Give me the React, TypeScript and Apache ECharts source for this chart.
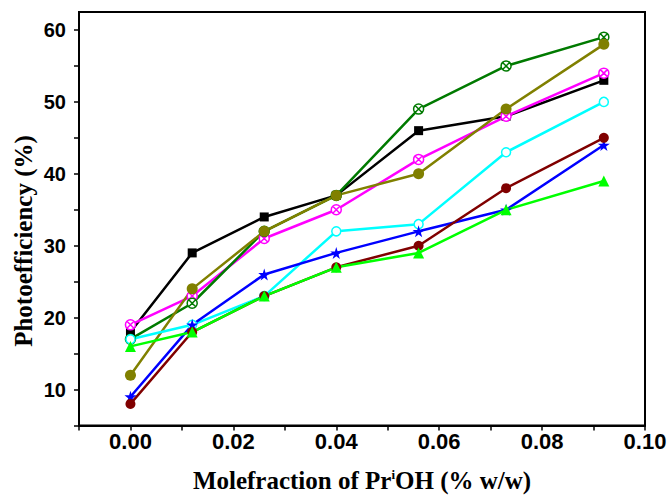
import React, { useEffect, useRef } from "react";
import * as echarts from "echarts";

const xValues = [0, 0.012, 0.026, 0.04, 0.056, 0.073, 0.092];
const blackSq = [18, 29, 34, 37, 46, 48, 53];
const magentaX = [19, 23, 31, 35, 42, 48, 54];
const greenX = [17, 22, 32, 37, 49, 55, 59];
const oliveDot = [12, 24, 32, 37, 40, 49, 58];
const cyanRing = [17, 19, 23, 32, 33, 43, 50];
const blueStar = [9, 19, 26, 29, 32, 35, 44];
const maroonDot = [8, 18, 23, 27, 30, 38, 45];
const limeTri = [16, 18, 23, 27, 29, 35, 39];

const yTitle = "Photoefficiency (%)";

const STAR = "path://M50,0L61,35L98,35L68,57L79,91L50,70L21,91L32,57L2,35L39,35Z";
const XCIRCLE = "path://M10,0A10,10,0,1,1,10,20A10,10,0,1,1,10,0ZM3,3L17,17M17,3L3,17";

function mk(name: string, vals: number[], color: string, symbol: string, size: number, hollow = false) {
  return {
    name,
    type: "line",
    data: xValues.map((x, i) => [x, vals[i]]),
    symbol,
    symbolSize: size,
    showSymbol: true,
    lineStyle: { color, width: 2.5 },
    itemStyle: hollow
      ? { color: "#ffffff", borderColor: color, borderWidth: 1.5 }
      : { color, borderColor: color, borderWidth: 0 },
    z: 3,
  };
}

export default function App() {
  const ref = useRef<HTMLDivElement>(null);
  useEffect(() => {
    if (!ref.current) return;
    const chart = echarts.init(ref.current, null, { renderer: "svg" });
    chart.setOption({
      animation: false,
      backgroundColor: "#ffffff",
      grid: {
        left: 79,
        right: 26,
        top: 12,
        bottom: 65,
        show: true,
        borderColor: "#000",
        borderWidth: 2,
        backgroundColor: "transparent",
      },
      graphic: [
        {
          type: "text",
          x: 23,
          y: 241,
          rotation: Math.PI / 2,
          style: {
            text: yTitle,
            fontFamily: "Liberation Serif",
            fontWeight: "bold",
            fontSize: 25,
            fill: "#000",
            align: "center",
            verticalAlign: "middle",
          },
        },
      ],
      xAxis: {
        type: "value",
        min: -0.01,
        max: 0.1,
        interval: 0.01,
        splitLine: { show: false },
        axisLine: { onZero: false, lineStyle: { color: "#000", width: 2 } },
        axisTick: { show: true, inside: false, length: 5, lineStyle: { color: "#000", width: 1.5 } },
        axisLabel: {
          fontFamily: "Liberation Sans",
          fontWeight: "bold",
          fontSize: 22,
          color: "#000",
          margin: 5,
          formatter: (v: number) => {
            const k = Math.round(v * 100);
            return k % 2 === 0 && k >= 0 ? (k / 100).toFixed(2) : "";
          },
        },
        name: "{a|Molefraction of Pr}{s|i}{a|OH (% w/w)}",
        nameLocation: "middle",
        nameGap: 42,
        nameTextStyle: {
          rich: {
            a: { fontFamily: "Liberation Serif", fontWeight: "bold", fontSize: 25, color: "#000", lineHeight: 26 },
            s: { fontFamily: "Liberation Serif", fontWeight: "bold", fontSize: 13, color: "#000", lineHeight: 13, verticalAlign: "top" },
          },
        },
      },
      yAxis: {
        type: "value",
        min: 5,
        max: 62.5,
        interval: 5,
        splitLine: { show: false },
        axisLine: { onZero: false, lineStyle: { color: "#000", width: 2 } },
        axisTick: { show: true, inside: false, length: 5, lineStyle: { color: "#000", width: 1.5 } },
        axisLabel: {
          fontFamily: "Liberation Sans",
          fontWeight: "bold",
          fontSize: 20,
          color: "#000",
          margin: 13,
          showMaxLabel: false,
          formatter: (v: number) => (Math.round(v * 10) % 100 === 0 ? String(Math.round(v)) : ""),
        },
      },
      series: [
        mk("s1", blackSq, "#000000", "rect", 9),
        mk("s2", magentaX, "#ff00ff", XCIRCLE, 10, true),
        mk("s3", greenX, "#007a00", XCIRCLE, 10, true),
        mk("s4", oliveDot, "#808000", "circle", 11),
        mk("s5", cyanRing, "#00ffff", "circle", 9, true),
        mk("s6", blueStar, "#0000ff", STAR, 12),
        mk("s7", maroonDot, "#800000", "circle", 10),
        mk("s8", limeTri, "#00ff00", "triangle", 11),
      ],
    });
    return () => chart.dispose();
  }, []);
  return <div ref={ref} style={{ position: "fixed", left: 0, top: 0, width: 671, height: 498 }} />;
}
